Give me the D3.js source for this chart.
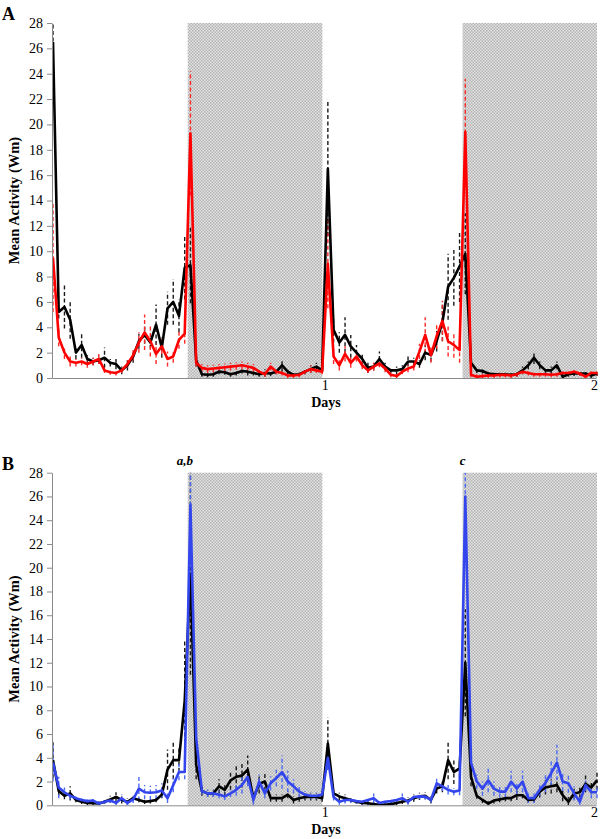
<!DOCTYPE html>
<html>
<head>
<meta charset="utf-8">
<script src="https://cdn.jsdelivr.net/npm/d3@7/dist/d3.min.js"></script>
<style>
    body { margin: 0; background: #fff; }
    svg { display: block; }
    text { font-family: "Liberation Serif", "Times New Roman", serif; fill: #000; }
    .axis path, .axis line { stroke: #8a8a8a; stroke-width: 1; }
    .axis text { font-size: 14px; }
</style>
</head>
<body>
<div id="activity_chart"></div>
<script>
/* jshint esversion: 6 */

// #############################################################################
// data: 30 min bins over two days (48 bins per day)
var binsPerDay = 48;
var yTicks = [0, 2, 4, 6, 8, 10, 12, 14, 16, 18, 20, 22, 24, 26, 28];
var dayTicks = [1, 2];
var darkPhases = [[0.49, 0.98], [1.49, 2]];

var aBlack = [26.5, 5.2, 5.6, 4.6, 2.0, 2.6, 1.5, 1.3, 1.4, 1.6, 1.2, 1.1, 0.6, 1.0, 1.7, 2.9,
              3.4, 2.8, 4.2, 2.4, 5.5, 6.0, 4.9, 8.7, 8.9, 1.4, 0.3, 0.25, 0.3, 0.5, 0.45, 0.3,
              0.4, 0.55, 0.5, 0.4, 0.3, 0.4, 0.35, 0.5, 1.0, 0.5, 0.25, 0.3, 0.5, 0.7, 0.9, 0.6,
              16.5, 3.8, 2.8, 3.4, 2.5, 2.0, 1.5, 0.8, 0.9, 1.5, 0.9, 0.6, 0.6, 0.7, 1.3, 1.3,
              1.1, 2.0, 1.8, 2.9, 4.4, 7.2, 7.9, 8.8, 9.8, 1.2, 0.6, 0.55, 0.35, 0.3, 0.3, 0.3,
              0.25, 0.3, 0.6, 1.0, 1.6, 1.0, 0.6, 0.6, 1.0, 0.1, 0.3, 0.35, 0.35, 0.35, 0.2, 0.35];
var aBlackErr = [2.0, 0.5, 1.7, 1.5, 0.5, 1.0, 0.3, 0.3, 0.3, 0.8, 0.3, 0.4, 0.3, 0.4, 0.5, 0.6,
                 0.7, 0.5, 1.6, 0.8, 1.3, 1.8, 1.3, 2.5, 3.0, 0.5, 0.2, 0.2, 0.2, 0.2, 0.2, 0.2,
                 0.2, 0.2, 0.3, 0.2, 0.2, 0.3, 0.2, 0.2, 0.5, 0.2, 0.2, 0.2, 0.2, 0.3, 0.3, 0.2,
                 5.3, 1.0, 0.8, 1.4, 0.9, 0.6, 0.5, 0.4, 0.3, 0.6, 0.3, 0.2, 0.3, 0.3, 0.4, 0.3,
                 0.3, 0.6, 0.5, 0.8, 1.5, 2.6, 2.2, 2.8, 3.2, 0.4, 0.2, 0.2, 0.2, 0.2, 0.2, 0.2,
                 0.2, 0.2, 0.3, 0.3, 0.5, 0.3, 0.2, 0.3, 0.3, 0.2, 0.2, 0.2, 0.2, 0.2, 0.2, 0.2];
var aRed = [9.5, 3.2, 2.0, 1.3, 1.2, 1.3, 1.1, 1.3, 1.5, 0.6, 0.45, 0.4, 0.6, 1.1, 1.8, 2.8,
            3.6, 2.9, 1.9, 2.5, 1.5, 1.7, 3.0, 3.5, 19.3, 1.2, 0.8, 0.7, 0.75, 0.8, 0.85, 0.9,
            0.95, 1.0, 0.9, 0.8, 0.5, 0.3, 0.9, 0.5, 0.4, 0.2, 0.2, 0.25, 0.5, 0.7, 0.6, 0.5,
            9.0, 1.7, 1.0, 1.9, 1.2, 1.7, 1.0, 0.6, 0.9, 1.15, 0.75, 0.25, 0.15, 0.5, 0.75, 0.9,
            2.1, 3.4, 1.8, 3.3, 4.5, 2.9, 2.6, 2.2, 19.4, 0.25, 0.1, 0.15, 0.2, 0.2, 0.25, 0.25,
            0.2, 0.3, 0.5, 0.4, 0.3, 0.3, 0.3, 0.25, 0.3, 0.4, 0.4, 0.5, 0.35, 0.1, 0.4, 0.4];
var aRedErr = [4.3, 0.7, 0.5, 0.4, 0.3, 0.3, 0.3, 0.3, 0.4, 0.2, 0.2, 0.2, 0.2, 0.3, 0.4, 0.8,
               1.4, 1.2, 0.8, 0.6, 0.6, 0.5, 0.7, 0.8, 4.9, 0.3, 0.3, 0.3, 0.3, 0.3, 0.3, 0.3,
               0.3, 0.3, 0.3, 0.3, 0.2, 0.2, 0.3, 0.2, 0.2, 0.2, 0.2, 0.2, 0.2, 0.3, 0.2, 0.2,
               3.5, 0.6, 0.4, 0.6, 0.4, 0.4, 0.3, 0.2, 0.3, 0.3, 0.3, 0.2, 0.2, 0.2, 0.3, 0.3,
               0.6, 1.4, 0.6, 1.0, 1.6, 1.2, 1.0, 1.0, 4.2, 0.2, 0.2, 0.2, 0.2, 0.2, 0.2, 0.2,
               0.2, 0.2, 0.2, 0.2, 0.2, 0.2, 0.2, 0.2, 0.2, 0.2, 0.2, 0.2, 0.2, 0.2, 0.2, 0.2];

var bBlack = [3.8, 1.2, 0.8, 1.0, 0.45, 0.3, 0.2, 0.17, 0.15, 0.3, 0.5, 0.7, 0.45, 0.3, 0.6, 0.45,
              0.3, 0.35, 0.45, 0.9, 3.0, 3.8, 3.8, 8.8, 19.5, 3.4, 1.2, 1.0, 1.0, 1.6, 1.3, 2.1,
              2.4, 2.5, 3.0, 0.6, 1.8, 2.0, 0.6, 0.6, 0.6, 0.9, 0.45, 0.6, 0.7, 0.7, 0.7, 0.6,
              5.2, 1.0, 0.75, 0.6, 0.45, 0.3, 0.2, 0.17, 0.1, 0.05, 0.05, 0.1, 0.2, 0.3, 0.4, 0.6,
              0.75, 0.8, 0.45, 1.4, 1.6, 3.8, 2.8, 3.1, 12.0, 2.4, 0.8, 0.45, 0.15, 0.4, 0.5, 0.6,
              0.6, 0.85, 0.85, 0.45, 0.5, 1.15, 1.5, 1.6, 1.7, 0.85, 0.3, 1.0, 1.1, 1.8, 1.5, 2.1];
var bBlackErr = [1.5, 0.4, 0.3, 0.6, 0.2, 0.2, 0.2, 0.2, 0.2, 0.2, 0.3, 0.4, 0.3, 0.3, 0.2, 0.2,
                 0.2, 0.2, 0.2, 0.3, 1.7, 1.6, 1.0, 5.2, 8.5, 1.2, 0.4, 0.3, 0.3, 0.6, 0.5, 0.8,
                 1.1, 1.0, 1.2, 0.4, 0.8, 0.8, 0.3, 0.3, 0.3, 0.3, 0.3, 0.3, 0.3, 0.3, 0.3, 0.3,
                 2.2, 0.3, 0.3, 0.3, 0.2, 0.2, 0.2, 0.2, 0.2, 0.2, 0.2, 0.2, 0.2, 0.2, 0.3, 0.3,
                 0.3, 0.3, 0.3, 0.4, 0.5, 1.6, 1.0, 0.8, 4.5, 0.8, 0.25, 0.25, 0.25, 0.25, 0.25, 0.25,
                 0.25, 0.4, 0.25, 0.25, 0.25, 0.5, 0.6, 0.6, 0.6, 0.5, 0.4, 0.5, 0.5, 0.7, 0.5, 0.8];
var bBlue = [3.6, 1.5, 1.1, 0.8, 0.6, 0.45, 0.35, 0.4, 0.15, 0.3, 0.4, 0.2, 0.6, 0.2, 0.5, 1.4,
             1.1, 1.05, 1.1, 1.25, 0.6, 1.7, 2.8, 2.8, 25.3, 5.7, 1.2, 1.0, 1.0, 0.9, 0.75, 1.0,
             1.3, 1.7, 2.4, 0.45, 2.0, 1.0, 1.85, 2.3, 2.8, 2.0, 1.6, 1.15, 0.9, 0.8, 0.8, 0.9,
             4.0, 0.7, 0.3, 0.45, 0.45, 0.35, 0.3, 0.45, 0.6, 0.2, 0.3, 0.35, 0.45, 0.6, 0.3, 0.7,
             0.75, 0.73, 0.45, 1.85, 1.6, 1.3, 1.15, 1.25, 26.0, 3.6, 2.0, 1.4, 2.1, 1.4, 1.15, 1.15,
             2.0, 1.4, 2.0, 0.6, 0.6, 1.3, 1.9, 2.7, 3.6, 2.0, 1.85, 1.0, 0.3, 1.7, 1.1, 1.1];
var bBlueErr = [1.6, 0.9, 0.4, 0.3, 0.2, 0.2, 0.2, 0.2, 0.2, 0.2, 0.2, 0.2, 0.3, 0.2, 0.3, 1.0,
                0.6, 0.6, 0.6, 0.6, 0.4, 0.6, 0.7, 0.6, 2.8, 1.0, 0.3, 0.3, 0.3, 0.3, 0.3, 0.3,
                0.5, 0.7, 0.8, 0.4, 0.6, 0.4, 0.6, 0.7, 1.4, 0.9, 0.6, 0.5, 0.3, 0.3, 0.3, 0.3,
                1.0, 0.3, 0.25, 0.3, 0.25, 0.25, 0.25, 0.25, 0.4, 0.25, 0.25, 0.25, 0.25, 0.4, 0.25, 0.25,
                0.25, 0.25, 0.25, 0.5, 0.4, 0.4, 0.3, 0.4, 2.0, 0.8, 0.6, 0.6, 1.0, 0.6, 0.5, 0.5,
                0.9, 0.5, 0.9, 0.4, 0.4, 0.5, 0.8, 1.0, 1.5, 0.8, 0.8, 0.6, 0.4, 0.5, 0.5, 0.5];
// #############################################################################

(function()
{
    "use strict";

    var width = 600, height = 839;
    var nbins = aBlack.length;
    var lastDay = (nbins - 1) / binsPerDay;

    var svg = d3.select("#activity_chart")
                .append("svg:svg")
                .attr("width", width)
                .attr("height", height);

    // checkered fill of the dark phase
    var pat = svg.append("defs").append("pattern")
                 .attr("id", "dark")
                 .attr("patternUnits", "userSpaceOnUse")
                 .attr("width", 3).attr("height", 3);
    pat.append("rect").attr("width", 3).attr("height", 3).attr("fill", "#e2e2e2");
    pat.append("rect").attr("width", 1.5).attr("height", 1.5).attr("fill", "#b5b5b5");
    pat.append("rect").attr("x", 1.5).attr("y", 1.5).attr("width", 1.5).attr("height", 1.5).attr("fill", "#b5b5b5");

    var xScale = d3.scaleLinear()
                   .domain([0, lastDay])
                   .range([53, 597]);

    // #########################################################################
    function drawPanel(cfg)
    {
        var yScale = d3.scaleLinear()
                       .domain([0, 28])
                       .range([cfg.bottom, cfg.top]);

        var g = svg.append("g");

        g.append("clipPath").attr("id", "clip" + cfg.name)
         .append("rect")
            .attr("x", 53).attr("y", cfg.top)
            .attr("width", 548).attr("height", cfg.bottom - cfg.top);

        g.selectAll("rect.dark")
            .data(darkPhases)
          .enter().append("rect")
            .attr("class", "dark")
            .attr("x", function(d) { return xScale(d[0]); })
            .attr("y", cfg.top)
            .attr("width", function(d) { return xScale(Math.min(d[1], lastDay)) - xScale(d[0]); })
            .attr("height", cfg.bottom - cfg.top)
            .attr("fill", "url(#dark)");

        var plot = g.append("g").attr("clip-path", "url(#clip" + cfg.name + ")");

        var line = d3.line()
                     .x(function(d, i) { return xScale(i / binsPerDay); })
                     .y(function(d) { return yScale(d); });

        cfg.series.forEach(function(s) {
            plot.append("g").selectAll("line")
                .data(s.values)
              .enter().append("line")
                .attr("x1", function(d, i) { return xScale(i / binsPerDay); })
                .attr("x2", function(d, i) { return xScale(i / binsPerDay); })
                .attr("y1", function(d, i) { return yScale(Math.max(0, d - s.err[i])); })
                .attr("y2", function(d, i) { return yScale(d + s.err[i]); })
                .attr("stroke", s.errColor)
                .attr("stroke-width", 1.4)
                .attr("stroke-dasharray", "4,2.5");
        });

        cfg.series.forEach(function(s) {
            plot.append("path")
                .datum(s.values)
                .attr("d", line)
                .attr("fill", "none")
                .attr("stroke", s.color)
                .attr("stroke-width", 2.6)
                .attr("stroke-linejoin", "round");
        });

        // axes
        var yAxis = d3.axisLeft(yScale).tickValues(yTicks).tickSize(5).tickSizeOuter(0).tickPadding(4);
        g.append("g")
            .attr("class", "axis")
            .attr("transform", "translate(52,0)")
            .call(yAxis);

        var xAxis = d3.axisBottom(xScale)
                      .tickValues([1, lastDay])
                      .tickFormat(function(d) { return d3.format("d")(Math.round(d)); })
                      .tickSize(0).tickSizeOuter(0).tickPadding(2);
        var xg = g.append("g")
            .attr("class", "axis")
            .attr("transform", `translate(-1, ${cfg.bottom})`)
            .call(xAxis);
        xg.selectAll("text").attr("dx", -2);

        g.append("text")
            .attr("transform", `translate(19, ${(cfg.top + cfg.bottom) / 2}) rotate(-90)`)
            .attr("text-anchor", "middle")
            .attr("font-size", 14.5)
            .attr("font-weight", "bold")
            .text("Mean Activity (Wm)");

        g.append("text")
            .attr("x", 326).attr("y", cfg.bottom + 29)
            .attr("text-anchor", "middle")
            .attr("font-size", 14)
            .attr("font-weight", "bold")
            .text("Days");

        g.append("text")
            .attr("x", 2).attr("y", cfg.top - 3)
            .attr("font-size", 18)
            .attr("font-weight", "bold")
            .text(cfg.name);

        (cfg.notes || []).forEach(function(n) {
            g.append("text")
                .attr("x", xScale(n.day)).attr("y", cfg.top - 8)
                .attr("text-anchor", "middle")
                .attr("font-size", 13)
                .attr("font-weight", "bold")
                .attr("font-style", "italic")
                .text(n.label);
        });
    }
    // #########################################################################

    drawPanel({
        name: "A", top: 23, bottom: 378,
        series: [
            {values: aBlack, err: aBlackErr, color: "#000", errColor: "#1a1a1a"},
            {values: aRed, err: aRedErr, color: "#ff0000", errColor: "#ff2a2a"}
        ]
    });

    drawPanel({
        name: "B", top: 472.7, bottom: 805.3,
        series: [
            {values: bBlack, err: bBlackErr, color: "#000", errColor: "#1a1a1a"},
            {values: bBlue, err: bBlueErr, color: "#3346ee", errColor: "#4a6af5"}
        ],
        notes: [{day: 0.48, label: "a,b"}, {day: 1.49, label: "c"}]
    });
})();
</script>
</body>
</html>
